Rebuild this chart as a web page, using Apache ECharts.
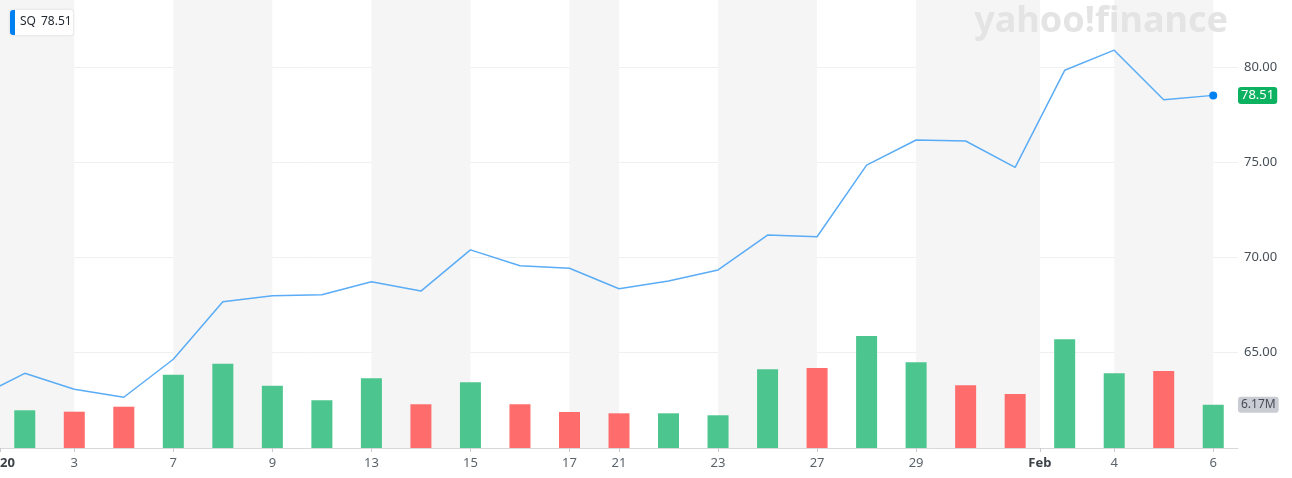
<!DOCTYPE html>
<html><head><meta charset="utf-8">
<script src="https://cdn.jsdelivr.net/npm/echarts@6/dist/echarts.min.js"></script>
<style>html,body{margin:0;padding:0;background:#fff}#c{width:1292px;height:478px}</style>
</head><body><div id="c"></div>
<script>
// ---- data ----
const ticker = 'SQ';
const prevDate = '2019-12-31';
const prevClose = 62.56;
const dates = ['2020-01-02','2020-01-03','2020-01-06','2020-01-07','2020-01-08','2020-01-09','2020-01-10',
  '2020-01-13','2020-01-14','2020-01-15','2020-01-16','2020-01-17','2020-01-21','2020-01-22','2020-01-23',
  '2020-01-24','2020-01-27','2020-01-28','2020-01-29','2020-01-30','2020-01-31','2020-02-03','2020-02-04',
  '2020-02-05','2020-02-06'];
const closes = [63.88, 63.04, 62.62, 64.62, 67.65, 67.96, 68.02, 68.70, 68.21, 70.38, 69.54, 69.41, 68.33,
  68.74, 69.32, 71.16, 71.07, 74.84, 76.16, 76.11, 74.72, 79.83, 80.89, 78.28, 78.51];
const volumesM = [5.37, 5.17, 5.88, 10.44, 12.0, 8.87, 6.79, 9.93, 6.22, 9.36, 6.22, 5.13, 4.94, 4.94, 4.66,
  11.2, 11.4, 15.95, 12.2, 8.93, 7.69, 15.5, 10.64, 10.97, 6.17];
const tickDates = ['2020-01','2020-01-03','2020-01-07','2020-01-09','2020-01-13','2020-01-15','2020-01-17',
  '2020-01-21','2020-01-23','2020-01-27','2020-01-29','2020-02','2020-02-04','2020-02-06'];
const tickLabels = ['2020','3','7','9','13','15','17','21','23','27','29','Feb','4','6'];
const priceTicks = [65, 70, 75, 80];

// ---- derived ----
function posOf(d) {
  if (d.length === 7) { // month boundary
    const i = dates.findIndex(x => x.startsWith(d));
    return i - 0.5;
  }
  return dates.indexOf(d);
}
const tickPos = tickDates.map(posOf);
const labelMap = {};
tickPos.forEach((p, i) => { labelMap[p] = { text: tickLabels[i], bold: tickDates[i].length === 7 }; });
const bands = [];
for (let i = 0; i + 1 < tickPos.length; i += 2) bands.push([{ xAxis: tickPos[i] }, { xAxis: tickPos[i + 1] }]);

const UP = '#4cc68e', DOWN = '#fe6c6c';
const lineData = [[-1, prevClose]].concat(closes.map((c, i) => [i, c]));
const barData = volumesM.map((v, i) => {
  const prev = i === 0 ? prevClose : closes[i - 1];
  return { value: [i, v], itemStyle: { color: closes[i] >= prev ? UP : DOWN } };
});
const lastIdx = lineData.length - 1;
const lastClose = closes[closes.length - 1];
const lastVol = volumesM[volumesM.length - 1];

const chart = echarts.init(document.getElementById('c'), null, { renderer: 'canvas' });
chart.setOption({
  animation: false,
  backgroundColor: '#fff',
  grid: { left: 0, right: 54, top: 0, bottom: 30, containLabel: false, outerBoundsMode: 'none' },
  xAxis: {
    type: 'value', min: -0.5, max: 24.5,
    axisLine: { show: true, lineStyle: { color: '#d6d8db', width: 1 } },
    axisTick: { show: true, customValues: tickPos, length: 4, lineStyle: { color: '#c8cacd' } },
    splitLine: { show: false },
    axisLabel: {
      customValues: tickPos, margin: 9, fontSize: 13, color: '#5b636a', fontFamily: 'Noto Sans',
      formatter: v => { const o = labelMap[v]; if (!o) return ''; return o.bold ? '{b|' + o.text + '}' : o.text; },
      rich: { b: { fontSize: 13, fontWeight: 'bold', color: '#3c4247', fontFamily: 'Noto Sans' } }
    }
  },
  yAxis: [
    {
      type: 'value', position: 'right', min: 59.95, max: 83.53,
      axisLine: { show: true, lineStyle: { color: '#d6d8db' } },
      axisTick: { show: false, customValues: priceTicks },
      splitLine: { show: true, lineStyle: { color: '#f0f0f0', width: 1 } },
      axisLabel: { customValues: priceTicks, margin: 6, fontSize: 13, color: '#464e56', fontFamily: 'Noto Sans',
        formatter: v => v.toFixed(2) }
    },
    { type: 'value', min: 0, max: 63.8, show: false, splitLine: { show: false } }
  ],
  graphic: [
    { type: 'text', right: 64, top: 4, silent: true, z: 100,
      style: { text: 'yahoo!finance', font: 'bold 36px "Noto Sans"', fill: '#e4e4e4' } },
    { type: 'group', left: 10, top: 10, z: 100, children: [
      { type: 'rect', z: 100, shape: { x: 0, y: 0, width: 63, height: 25, r: 3 },
        style: { fill: '#fff', shadowBlur: 3, shadowColor: 'rgba(0,0,0,0.12)' } },
      { type: 'rect', z: 101, shape: { x: 0, y: 0, width: 5, height: 25, r: [3, 0, 0, 3] }, style: { fill: '#0081f2' } },
      { type: 'text', z: 101, x: 10, y: 6, style: { text: ticker, font: '12px "Noto Sans"', fill: '#232a31' } },
      { type: 'text', z: 101, x: 31, y: 6, style: { text: lastClose.toFixed(2), font: '12px "Noto Sans"', fill: '#232a31' } }
    ] }
  ],
  series: [
    {
      name: 'bands', type: 'line', data: [], z: 0, silent: true,
      markArea: { silent: true, itemStyle: { color: '#f5f5f5' }, data: bands }
    },
    {
      name: 'volume', type: 'bar', xAxisIndex: 0, yAxisIndex: 1, barWidth: 21, z: 2,
      data: barData,
      markLine: {
        silent: true, symbol: ['none', 'none'], lineStyle: { width: 0, color: 'rgba(0,0,0,0)' },
        data: [{ yAxis: lastVol }],
        label: { show: true, position: 'end', distance: 0, formatter: () => lastVol.toFixed(2) + 'M',
          backgroundColor: '#c9ccd3', color: '#464b55', fontSize: 12, fontFamily: 'Noto Sans',
          padding: [2, 3], borderRadius: 3 }
      }
    },
    {
      name: ticker, type: 'line', yAxisIndex: 0, z: 3, data: lineData,
      symbol: 'circle', showSymbol: true, showAllSymbol: true,
      symbolSize: (v, p) => p.dataIndex === lastIdx ? 8 : 0,
      itemStyle: { color: '#0081f2' },
      lineStyle: { color: '#5aacf6', width: 1.5 },
      markLine: {
        silent: true, symbol: ['none', 'none'], lineStyle: { width: 0, color: 'rgba(0,0,0,0)' },
        data: [{ yAxis: lastClose }],
        label: { show: true, position: 'end', distance: 0, formatter: () => lastClose.toFixed(2),
          backgroundColor: '#0db260', color: '#fff', fontSize: 13, fontFamily: 'Noto Sans',
          padding: [2, 3], borderRadius: 3 }
      }
    }
  ]
});
</script></body></html>
